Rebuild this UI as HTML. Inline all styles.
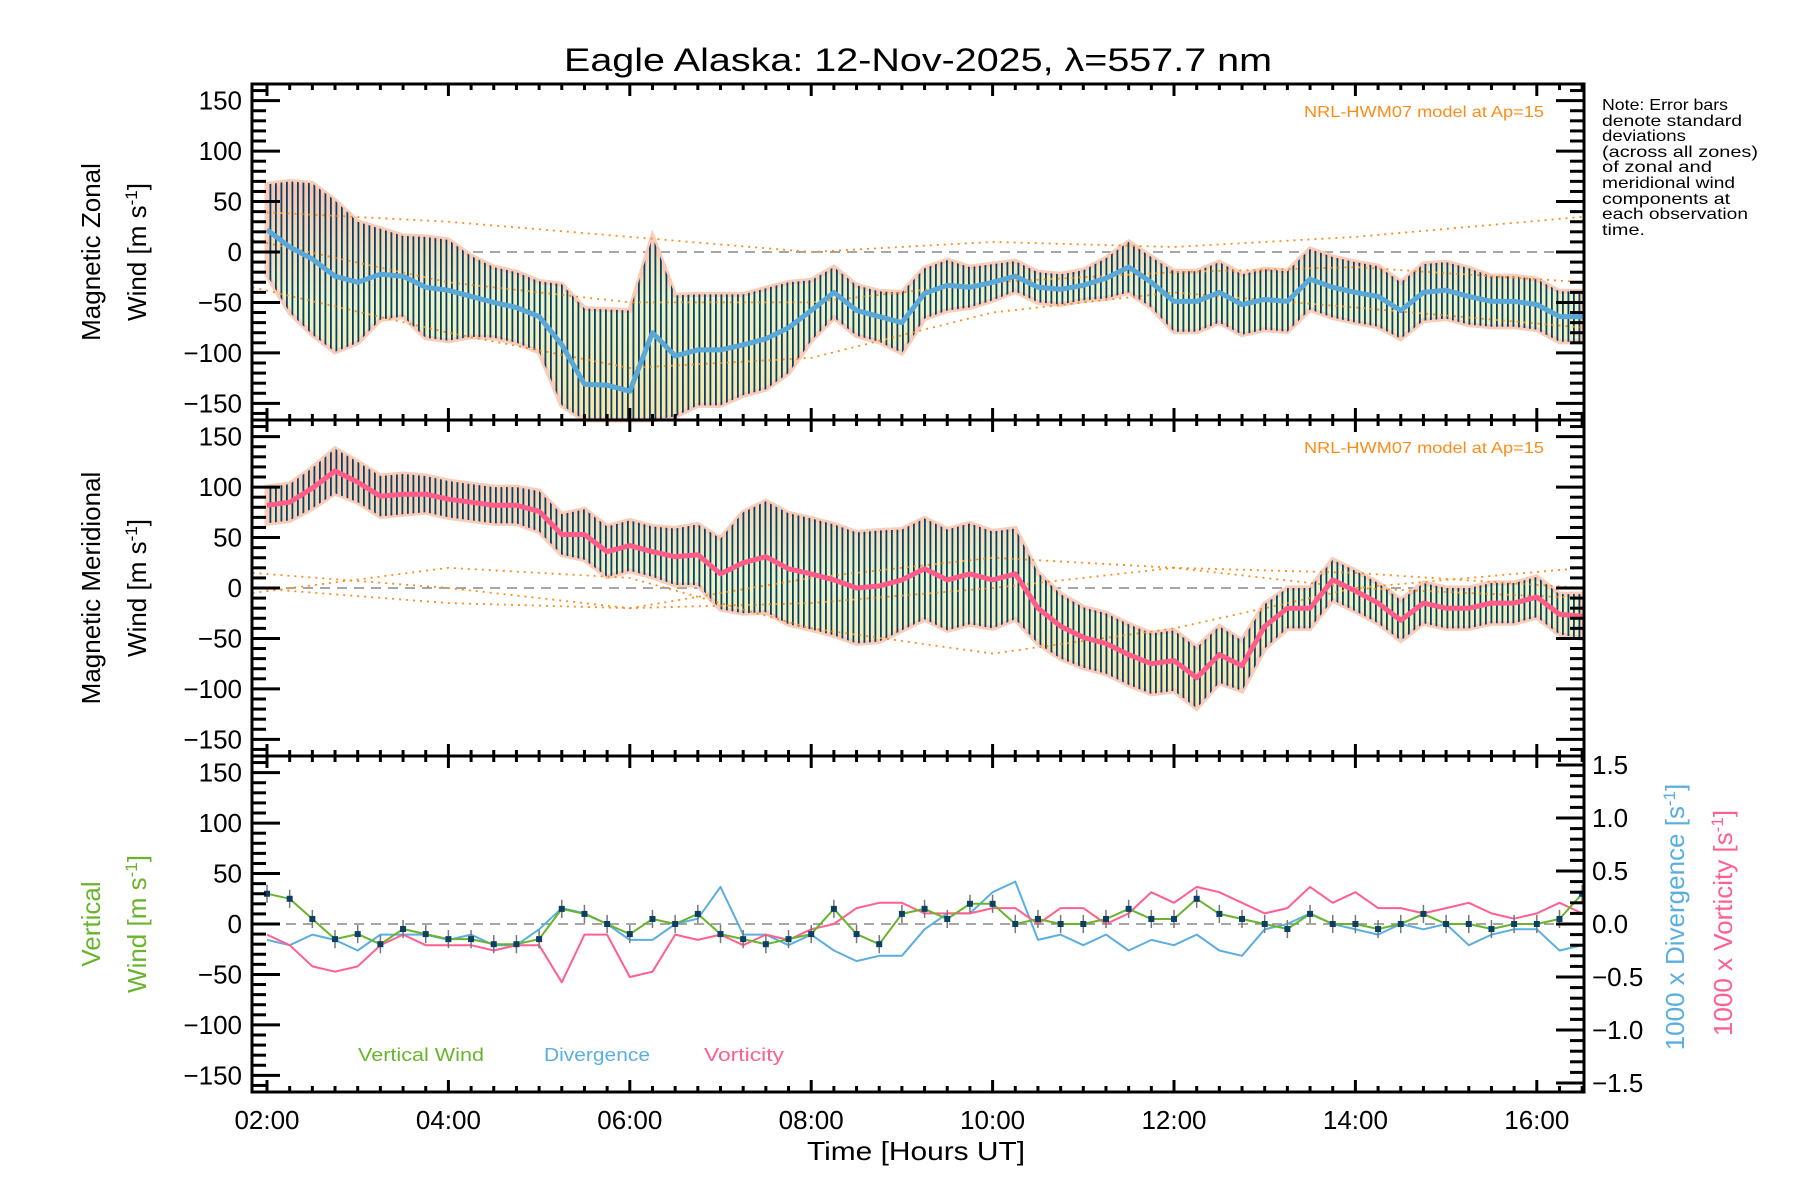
<!DOCTYPE html>
<html><head><meta charset="utf-8"><title>Eagle Alaska winds</title>
<style>html,body{margin:0;padding:0;background:#fff}svg{display:block}text{font-family:"Liberation Sans",sans-serif}</style>
</head><body>
<svg id="chart" xmlns="http://www.w3.org/2000/svg" width="1800" height="1200" viewBox="0 0 1800 1200">
<defs>
<linearGradient id="bandGrad" x1="0" y1="0" x2="0" y2="1">
<stop offset="0" stop-color="#f9c2ae"/><stop offset="0.5" stop-color="#e9f5c8"/><stop offset="1" stop-color="#f8e4a8"/>
</linearGradient>
<pattern id="hatch" patternUnits="userSpaceOnUse" width="5.5" height="10">
<rect x="0" width="1.8" height="10" fill="#0c3f66"/>
</pattern>
</defs>
<rect width="1800" height="1200" fill="#fff"/>
<text x="918" y="71" font-size="32" text-anchor="middle" textLength="708" lengthAdjust="spacingAndGlyphs">Eagle Alaska: 12-Nov-2025, λ=557.7 nm</text>
<g id="plots"></g>
<g id="frame"></g>
<g font-size="16">
<text x="1602" y="110" textLength="126" lengthAdjust="spacingAndGlyphs">Note: Error bars</text>
<text x="1602" y="126" textLength="140" lengthAdjust="spacingAndGlyphs">denote standard</text>
<text x="1602" y="141" textLength="84" lengthAdjust="spacingAndGlyphs">deviations</text>
<text x="1602" y="157" textLength="156" lengthAdjust="spacingAndGlyphs">(across all zones)</text>
<text x="1602" y="172" textLength="110" lengthAdjust="spacingAndGlyphs">of zonal and</text>
<text x="1602" y="188" textLength="133" lengthAdjust="spacingAndGlyphs">meridional wind</text>
<text x="1602" y="204" textLength="128" lengthAdjust="spacingAndGlyphs">components at</text>
<text x="1602" y="219" textLength="146" lengthAdjust="spacingAndGlyphs">each observation</text>
<text x="1602" y="235" textLength="43" lengthAdjust="spacingAndGlyphs">time.</text>
</g>
<text x="1544" y="117" font-size="16" fill="#ff8c1a" text-anchor="end" textLength="240" lengthAdjust="spacingAndGlyphs">NRL-HWM07 model at Ap=15</text>
<text x="1544" y="453" font-size="16" fill="#ff8c1a" text-anchor="end" textLength="240" lengthAdjust="spacingAndGlyphs">NRL-HWM07 model at Ap=15</text>
<text font-size="26" text-anchor="middle" transform="translate(100,252) rotate(-90)">Magnetic Zonal</text>
<text font-size="26" text-anchor="middle" transform="translate(146,252) rotate(-90)">Wind [m s<tspan baseline-shift="super" font-size="17">-1</tspan>]</text>
<text font-size="26" text-anchor="middle" transform="translate(100,588) rotate(-90)">Magnetic Meridional</text>
<text font-size="26" text-anchor="middle" transform="translate(146,588) rotate(-90)">Wind [m s<tspan baseline-shift="super" font-size="17">-1</tspan>]</text>
<text font-size="26" fill="#6ab42d" text-anchor="middle" transform="translate(100,924) rotate(-90)">Vertical</text>
<text font-size="26" fill="#6ab42d" text-anchor="middle" transform="translate(146,924) rotate(-90)">Wind [m s<tspan baseline-shift="super" font-size="17">-1</tspan>]</text>
<text font-size="26" fill="#5aaee0" text-anchor="middle" transform="translate(1684,917) rotate(-90)">1000 x Divergence [s<tspan baseline-shift="super" font-size="17">-1</tspan>]</text>
<text font-size="26" fill="#ff6090" text-anchor="middle" transform="translate(1732,923) rotate(-90)">1000 x Vorticity [s<tspan baseline-shift="super" font-size="17">-1</tspan>]</text>
<text x="916" y="1160" font-size="26" text-anchor="middle" textLength="218" lengthAdjust="spacingAndGlyphs">Time [Hours UT]</text>
<text x="358" y="1061" font-size="18" fill="#6ab42d" textLength="126" lengthAdjust="spacingAndGlyphs">Vertical Wind</text>
<text x="544" y="1061" font-size="18" fill="#5aaee0" textLength="106" lengthAdjust="spacingAndGlyphs">Divergence</text>
<text x="704" y="1061" font-size="18" fill="#ff6090" textLength="80" lengthAdjust="spacingAndGlyphs">Vorticity</text>
</svg>
<script>
// ---- data (15-minute samples from 02:00 to 16:30 UT) ----
var zonalMean = [22,5,-7,-24,-30,-22,-24,-35,-38,-44,-50,-55,-64,-92,-131,-132,-138,-80,-103,-97,-97,-92,-86,-75,-58,-40,-58,-64,-70,-41,-33,-35,-30,-24,-35,-37,-33,-26,-15,-30,-49,-49,-40,-52,-47,-49,-27,-35,-40,-44,-58,-40,-38,-44,-49,-49,-52,-64,-64];
var zonalStd = [45,65,75,75,60,45,40,50,50,40,35,35,35,60,75,75,80,95,60,55,55,50,50,45,30,25,25,25,30,25,25,20,18,15,15,15,15,20,25,25,30,30,30,30,30,30,30,30,30,30,28,28,28,28,25,25,25,25,25];
var meridMean = [82,85,99,116,105,91,93,93,88,85,82,82,76,53,53,36,42,36,31,33,14,25,31,19,14,8,0,2,8,19,8,14,8,14,-20,-38,-49,-55,-66,-75,-72,-89,-66,-77,-38,-20,-20,8,-3,-15,-32,-15,-20,-20,-15,-15,-9,-26,-28];
var meridStd = [18,18,20,22,20,20,20,18,18,18,18,18,20,20,25,25,25,25,28,30,35,50,55,55,55,55,55,55,50,50,50,50,48,45,35,32,30,30,30,30,30,30,28,25,22,20,20,20,20,20,20,20,20,20,20,20,20,20,22];
var vertWind = [30,25,5,-15,-10,-20,-5,-10,-15,-15,-20,-20,-15,15,10,0,-10,5,0,10,-10,-15,-20,-15,-10,15,-10,-20,10,15,5,20,20,0,5,0,0,5,15,5,5,25,10,5,0,-5,10,0,0,-5,0,10,0,0,-5,0,0,5,30];
var divergence = [-0.15,-0.2,-0.1,-0.15,-0.25,-0.1,-0.1,-0.1,-0.15,-0.1,-0.2,-0.2,-0.05,0.15,0.1,0.0,-0.15,-0.15,0.0,0.05,0.35,-0.1,-0.1,-0.2,-0.1,-0.25,-0.35,-0.3,-0.3,-0.05,0.1,0.1,0.3,0.4,-0.15,-0.1,-0.2,-0.1,-0.25,-0.15,-0.2,-0.1,-0.25,-0.3,-0.05,0.0,0.1,0.0,-0.05,-0.1,0.0,-0.05,0.0,-0.2,-0.1,-0.05,-0.05,-0.25,-0.2];
var vorticity = [-0.1,-0.2,-0.4,-0.45,-0.4,-0.2,-0.1,-0.2,-0.2,-0.2,-0.25,-0.2,-0.2,-0.55,-0.1,-0.1,-0.5,-0.45,-0.1,-0.15,-0.1,-0.2,-0.1,-0.15,-0.05,0.0,0.15,0.2,0.2,0.1,0.1,0.1,0.15,0.15,0.0,0.15,0.15,0.0,0.1,0.3,0.2,0.35,0.3,0.2,0.1,0.15,0.35,0.2,0.3,0.15,0.15,0.1,0.15,0.2,0.1,0.05,0.1,0.2,0.1];
// HWM07 model curves (hours at hwmHours)
var hwmHours = [1.84,4,6,8,10,12,14,16.52];
var hwmZonal1 = [40,30,15,0,10,5,15,35];
var hwmZonal2 = [12,-30,-50,-50,-30,-20,-15,-30];
var hwmZonal3 = [-35,-80,-115,-105,-60,-40,-55,-75];
var hwmMerid1 = [15,0,-20,-15,0,20,15,0];
var hwmMerid2 = [-5,20,10,-40,-65,-40,0,20];
var hwmMerid3 = [0,-15,-20,10,30,20,0,-10];
var xTickLabels = ["02:00","04:00","06:00","08:00","10:00","12:00","14:00","16:00"];
var yTickLabels = [-150,-100,-50,0,50,100,150];
var rTickLabels = ["-1.5","-1.0","-0.5","0.0","0.5","1.0","1.5"];

var NS = "http://www.w3.org/2000/svg";
var L = 252, R = 1584, PH = 336, TOPS = [84, 420, 756];
function hours(i){ return 2 + i * 0.25; }
function xs(h){ return 267 + (h - 2) * 90.7; }
function ys(v, p){ return TOPS[p] + PH/2 - v * 1.009; }
function yr(v){ return TOPS[2] + PH/2 - v * 106; }
function el(tag, attrs, parent){ var e = document.createElementNS(NS, tag); for (var k in attrs) e.setAttribute(k, attrs[k]); parent.appendChild(e); return e; }
function clampY(y, p){ return Math.max(TOPS[p], Math.min(TOPS[p] + PH, y)); }

var plots = document.getElementById('plots');
var frame = document.getElementById('frame');

function band(mean, std, p, name){
  var up = [], dn = [];
  for (var i = 0; i < mean.length; i++){
    up.push(xs(hours(i)).toFixed(1) + ',' + clampY(ys(mean[i] + std[i], p), p).toFixed(1));
    dn.unshift(xs(hours(i)).toFixed(1) + ',' + clampY(ys(mean[i] - std[i], p), p).toFixed(1));
  }
  var g = el('polygon', {points: up.concat(dn).join(' '), fill: 'url(#bandGrad)', stroke: '#f9cdb8', 'stroke-width': 5}, plots);
  
  
  var h = el('polygon', {points: up.concat(dn).join(' '), fill: 'url(#hatch)'}, plots);
  
  
}
function line(vals, yfn, color, w, name, xfn){
  var pts = [];
  for (var i = 0; i < vals.length; i++) pts.push((xfn ? xfn(i) : xs(hours(i))).toFixed(1) + ',' + yfn(vals[i]).toFixed(1));
  var e = el('polyline', {points: pts.join(' '), fill: 'none', stroke: color, 'stroke-width': w, 'stroke-linejoin': 'round'}, plots);
  
  
  return e;
}
function zeroLine(p){
  var e = el('line', {x1: L, x2: R, y1: ys(0, p), y2: ys(0, p), stroke: '#888', 'stroke-width': 1.5, 'stroke-dasharray': '10,7'}, plots);
  
  
}

// Panel 1: zonal
zeroLine(0);
band(zonalMean, zonalStd, 0, 'zonal');
[hwmZonal1, hwmZonal2, hwmZonal3].forEach(function(c, k){
  var e = line(c, function(v){ return ys(v, 0); }, '#ff8c1a', 1.8, 'hwm-zonal-curve-' + (k+1), function(i){ return xs(hwmHours[i]); });
  e.setAttribute('stroke-dasharray', '2,5');
});
line(zonalMean, function(v){ return clampY(ys(v, 0), 0); }, '#5aa8d8', 5, 'zonal-mean-line');

// Panel 2: meridional
zeroLine(1);
band(meridMean, meridStd, 1, 'meridional');
[hwmMerid1, hwmMerid2, hwmMerid3].forEach(function(c, k){
  var e = line(c, function(v){ return ys(v, 1); }, '#ff8c1a', 1.8, 'hwm-meridional-curve-' + (k+1), function(i){ return xs(hwmHours[i]); });
  e.setAttribute('stroke-dasharray', '2,5');
});
line(meridMean, function(v){ return ys(v, 1); }, '#ff5c8a', 5, 'meridional-mean-line');

// Panel 3
zeroLine(2);
line(divergence, yr, '#5aaee0', 2, 'divergence-line');
line(vorticity, yr, '#ff6090', 2, 'vorticity-line');
for (var i = 0; i < vertWind.length; i++){
  var eb = el('line', {x1: xs(hours(i)), x2: xs(hours(i)), y1: ys(vertWind[i] + 9, 2), y2: ys(vertWind[i] - 9, 2), stroke: '#777', 'stroke-width': 1.5}, plots);
  
  
}
line(vertWind, function(v){ return ys(v, 2); }, '#6ab42d', 2, 'vertical-wind-line');
for (var i = 0; i < vertWind.length; i++){
  var pt = el('rect', {x: xs(hours(i)) - 3, y: ys(vertWind[i], 2) - 3, width: 6, height: 6, fill: '#0c3f66'}, plots);
  
  
}

// Frames, ticks, labels
for (var p = 0; p < 3; p++){
  var t = TOPS[p], b = t + PH;
  var box = el('rect', {x: L, y: t, width: R - L, height: PH, fill: 'none', stroke: '#000', 'stroke-width': 3}, frame);
  
  
  for (var v = -160; v <= 160; v += 10){
    var maj = (v % 50 === 0), len = maj ? 28 : 14, y = ys(v, p);
    el('line', {x1: L, x2: L + len, y1: y, y2: y, stroke: '#000', 'stroke-width': 3}, frame);
    if (p < 2) el('line', {x1: R, x2: R - len, y1: y, y2: y, stroke: '#000', 'stroke-width': 3}, frame);
  }
  for (var k = 0; k < yTickLabels.length; k++){
    var tl = el('text', {x: 242, y: ys(yTickLabels[k], p) + 9, 'font-size': 26, 'text-anchor': 'end'}, frame);
    tl.textContent = String(yTickLabels[k]).replace('-', '\u2212');
    
    
  }
  for (var h = 2; h <= 16.5; h += 0.25){
    var maj2 = (Math.abs(h % 2) < 1e-6), l2 = maj2 ? 12 : 6, x = xs(h);
    el('line', {x1: x, x2: x, y1: t, y2: t + l2, stroke: '#000', 'stroke-width': 3}, frame);
    el('line', {x1: x, x2: x, y1: b, y2: b - l2, stroke: '#000', 'stroke-width': 3}, frame);
  }
}
for (var v = -1.5; v <= 1.501; v += 0.1){
  var m = Math.abs(Math.round(v * 10) % 5) === 0, y = yr(v);
  el('line', {x1: R, x2: R - (m ? 28 : 14), y1: y, y2: y, stroke: '#000', 'stroke-width': 3}, frame);
}
for (var k = 0; k < rTickLabels.length; k++){
  var rl = el('text', {x: 1592, y: yr(parseFloat(rTickLabels[k])) + 9, 'font-size': 26}, frame);
  rl.textContent = rTickLabels[k].replace('-', '\u2212');
  
  
}
for (var k = 0; k < xTickLabels.length; k++){
  var xl = el('text', {x: xs(2 + 2 * k), y: 1129, 'font-size': 26, 'text-anchor': 'middle'}, frame);
  xl.textContent = xTickLabels[k];
  
  
}
</script>
</body></html>
